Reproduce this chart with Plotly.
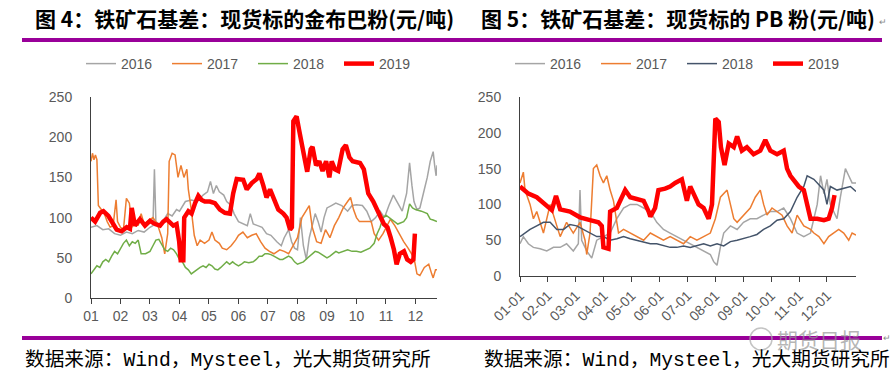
import plotly.graph_objects as go

W, H = 894, 381

# ---------------- Left chart (金布巴粉) : x = month index (0 = Jan 1) ----------------
L16_x = [0.0,0.2,0.4,0.6,0.8,1.0,1.2,1.4,1.6,1.8,2.0,2.1,2.15,2.2,2.35,2.5,2.6,2.75,2.9,3.0,3.1,3.2,3.4,3.6,3.8,3.95,4.05,4.15,4.25,4.35,4.5,4.6,4.75,4.85,5.0,5.15,5.3,5.4,5.5,5.65,5.8,5.95,6.1,6.3,6.45,6.55,6.7,6.8,6.9,7.0,7.1,7.2,7.3,7.4,7.5,7.6,7.7,7.8,7.9,8.0,8.15,8.3,8.5,8.7,8.85,9.0,9.2,9.35,9.5,9.65,9.8,9.95,10.1,10.25,10.4,10.55,10.7,10.8,10.88,10.95,11.05,11.15,11.3,11.4,11.5,11.6,11.65,11.7,11.73]
L16_y = [88,90,85,86,80,78,82,80,84,82,88,90,160,95,90,100,105,102,110,108,115,120,122,120,128,132,145,130,140,132,128,120,115,105,95,92,90,105,92,90,88,80,78,70,65,75,85,70,62,60,100,65,48,75,90,105,95,82,100,112,115,118,115,108,115,116,115,108,95,100,108,100,115,128,118,108,130,168,140,120,110,112,135,150,170,182,165,152,165]

L17_x = [0.0,0.05,0.1,0.15,0.2,0.25,0.35,0.45,0.55,0.65,0.75,0.85,0.9,1.0,1.1,1.2,1.3,1.4,1.5,1.6,1.7,1.8,1.9,2.0,2.1,2.25,2.4,2.5,2.6,2.65,2.75,2.85,2.95,3.05,3.15,3.25,3.3,3.4,3.5,3.6,3.7,3.85,4.0,4.1,4.2,4.35,4.45,4.6,4.75,4.9,5.0,5.15,5.3,5.45,5.6,5.75,5.9,6.05,6.2,6.4,6.55,6.7,6.85,7.0,7.15,7.3,7.4,7.5,7.65,7.8,7.95,8.1,8.25,8.4,8.55,8.7,8.8,8.9,9.0,9.1,9.3,9.5,9.6,9.75,9.9,10.05,10.15,10.3,10.45,10.6,10.75,10.85,10.95,11.05,11.15,11.3,11.45,11.55,11.6,11.68,11.73]
L17_y = [170,180,172,178,172,115,110,105,95,88,90,122,95,88,85,124,118,88,95,90,105,92,95,98,100,92,75,55,80,170,180,178,150,165,150,160,135,110,78,65,72,68,72,82,72,68,62,60,65,72,78,82,75,78,80,70,62,58,55,60,58,55,65,75,100,110,115,88,70,68,85,75,90,100,112,120,125,110,100,95,95,95,80,72,80,90,98,90,80,70,62,55,50,30,28,38,42,30,25,35,35]

L18_x = [0,0.1,0.2,0.3,0.4,0.5,0.6,0.7,0.8,0.9,1.0,1.1,1.2,1.3,1.4,1.5,1.6,1.7,1.85,2.0,2.1,2.2,2.3,2.4,2.5,2.6,2.7,2.8,2.9,3.0,3.1,3.2,3.3,3.4,3.5,3.6,3.7,3.8,3.9,4.0,4.1,4.2,4.3,4.4,4.5,4.6,4.7,4.8,4.9,5.0,5.1,5.2,5.35,5.5,5.6,5.7,5.8,5.9,6.0,6.1,6.2,6.3,6.4,6.5,6.6,6.7,6.8,6.9,7.0,7.1,7.2,7.35,7.5,7.6,7.7,7.8,7.9,8.0,8.1,8.2,8.3,8.4,8.55,8.7,8.85,9.0,9.15,9.3,9.45,9.6,9.7,9.8,9.9,10.0,10.2,10.4,10.6,10.7,10.8,10.9,11.0,11.2,11.4,11.5,11.6,11.73]
L18_y = [30,35,40,38,45,48,45,52,58,55,62,68,72,65,70,68,72,55,55,58,65,72,73,66,60,58,62,60,55,48,45,38,35,30,33,36,38,40,38,42,40,36,35,38,42,45,42,45,42,40,42,45,44,45,48,52,52,55,55,54,52,50,48,48,50,52,50,45,42,44,45,50,55,58,57,55,52,50,52,55,58,56,58,60,58,58,57,60,62,68,80,88,100,103,98,92,95,100,117,112,110,108,105,98,97,95]

L19_x = [0.00,0.14,0.31,0.42,0.59,0.76,0.87,1.04,1.21,1.32,1.38,1.49,1.66,1.83,2.00,2.17,2.34,2.45,2.56,2.79,2.90,2.99,3.04,3.13,3.16,3.30,3.41,3.53,3.64,3.75,3.86,4.03,4.20,4.37,4.54,4.71,4.82,4.94,5.16,5.28,5.45,5.62,5.71,5.84,5.95,6.07,6.24,6.35,6.52,6.63,6.75,6.81,6.86,6.97,7.05,7.14,7.25,7.33,7.45,7.51,7.63,7.74,7.85,7.97,8.08,8.16,8.27,8.38,8.53,8.64,8.76,8.87,9.12,9.25,9.40,9.57,9.68,9.80,9.93,10.05,10.16,10.27,10.36,10.47,10.61,10.72,10.84,10.93,10.98]
L19_y = [100,95,106,108,102,91,85,83,88,86,112,90,98,90,96,92,90,95,98,90,92,70,47,47,100,108,105,118,127,122,120,120,118,110,106,105,130,148,147,135,143,148,155,140,125,135,120,110,105,100,85,88,220,226,210,190,172,157,185,188,165,170,158,170,150,170,160,158,185,190,175,170,168,160,130,120,110,102,92,88,75,60,42,55,58,48,45,48,80]

# ---------------- Right chart (PB粉) ----------------
R16_x = [0,0.12,0.30,0.48,0.72,0.96,1.20,1.44,1.67,1.91,2.09,2.15,2.21,2.39,2.57,2.75,2.99,3.23,3.47,3.71,3.95,4.19,4.43,4.67,4.90,5.14,5.38,5.62,5.86,6.10,6.34,6.58,6.82,6.94,7.06,7.18,7.30,7.54,7.78,8.01,8.25,8.49,8.73,8.97,9.21,9.45,9.69,9.93,10.17,10.41,10.65,10.77,10.89,11.00,11.12,11.36,11.48,11.66,11.78,11.90,12.04]
R16_y = [45,55,45,40,38,35,40,40,45,35,45,120,50,35,25,50,55,60,80,95,100,100,95,90,75,65,60,55,50,45,40,35,30,20,15,40,60,70,65,75,80,80,85,90,90,95,80,60,55,60,100,140,115,135,100,80,110,150,140,130,130]

R17_x = [0,0.12,0.18,0.36,0.48,0.60,0.84,1.08,1.32,1.44,1.67,1.91,2.15,2.33,2.39,2.51,2.63,2.75,2.87,2.99,3.11,3.23,3.35,3.53,3.71,3.95,4.19,4.43,4.67,4.90,5.14,5.38,5.62,5.86,6.10,6.34,6.58,6.82,7.00,7.18,7.42,7.54,7.66,7.78,8.01,8.25,8.43,8.61,8.73,8.85,9.03,9.21,9.39,9.57,9.75,9.93,10.17,10.41,10.53,10.71,10.89,11.06,11.24,11.42,11.60,11.78,11.90,12.04]
R17_y = [130,145,120,100,80,90,60,100,70,55,75,60,75,50,30,60,150,155,140,130,140,120,105,60,65,60,55,50,60,55,50,55,50,45,55,50,55,60,80,110,120,100,80,75,85,95,110,120,100,85,95,90,85,70,60,85,70,65,60,55,45,55,60,65,60,50,60,57]

R18_x = [0,0.36,0.60,0.84,1.08,1.32,1.56,1.79,2.03,2.27,2.51,2.75,2.99,3.23,3.47,3.71,3.95,4.19,4.43,4.67,4.90,5.14,5.38,5.62,5.86,6.10,6.34,6.58,6.82,7.06,7.30,7.54,7.78,8.01,8.25,8.49,8.73,8.97,9.21,9.45,9.69,9.93,10.17,10.29,10.53,10.77,10.89,11.00,11.12,11.36,11.60,11.84,12.04]
R18_y = [55,65,70,75,75,65,65,72,70,65,60,55,55,50,52,55,52,50,48,45,45,42,40,40,42,40,42,45,42,45,42,48,50,52,55,58,65,70,78,80,90,110,125,140,135,125,120,100,125,120,122,125,118]

R19_x = [0,0.30,0.60,0.96,1.14,1.29,1.44,1.79,2.15,2.51,2.81,2.93,2.99,3.17,3.23,3.47,3.65,3.77,3.95,4.19,4.43,4.61,4.67,4.84,4.96,5.20,5.38,5.56,5.80,5.98,6.10,6.22,6.40,6.58,6.76,6.88,7.00,7.12,7.20,7.33,7.48,7.66,7.78,7.95,8.13,8.37,8.61,8.79,8.97,9.21,9.45,9.57,9.69,9.99,10.17,10.29,10.41,10.65,10.89,11.06,11.18,11.27]
R19_y = [125,115,110,98,92,112,93,90,82,78,75,70,40,38,90,95,110,120,110,108,105,90,83,95,120,122,125,130,135,105,125,115,100,95,80,100,220,215,180,155,185,180,195,175,180,170,175,190,175,170,175,150,140,125,120,100,80,80,78,80,95,113]

series_names = ["2016", "2017", "2018", "2019"]
left_month_labels = ["01","02","03","04","05","06","07","08","09","10","11","12"]
right_month_labels = ["01-01","02-01","03-01","04-01","05-01","06-01","07-01","08-01","09-01","10-01","11-01","12-01"]
y_ticks = [0, 50, 100, 150, 200, 250]

left_colors = ["#a5a5a5", "#ed7d31", "#70ad47", "#ff0000"]
right_colors = ["#a5a5a5", "#ed7d31", "#44546a", "#ff0000"]
widths = [1.5, 1.5, 1.5, 4.5]

fig = go.Figure()
left_data = [(L16_x, L16_y), (L17_x, L17_y), (L18_x, L18_y), (L19_x, L19_y)]
right_data = [(R16_x, R16_y), (R17_x, R17_y), (R18_x, R18_y), (R19_x, R19_y)]
for (xs, ys), name, c, w in zip(left_data, series_names, left_colors, widths):
    fig.add_trace(go.Scatter(x=xs, y=ys, name=name, mode="lines",
                             line=dict(color=c, width=w), xaxis="x", yaxis="y", legend="legend"))
for (xs, ys), name, c, w in zip(right_data, series_names, right_colors, widths):
    fig.add_trace(go.Scatter(x=xs, y=ys, name=name, mode="lines",
                             line=dict(color=c, width=w), xaxis="x2", yaxis="y2", legend="legend2"))

# convert picture pixel positions to paper fractions
def px(v):
    return v / W
def py(v):
    return 1 - v / H

tickfont = dict(family="Liberation Sans, Noto Sans CJK SC", size=14, color="#595959")
axis_common = dict(showgrid=False, zeroline=False, showline=True, linecolor="#404040", linewidth=1,
                   tickfont=tickfont, automargin=False)
legend_font = dict(family="Liberation Sans", size=14, color="#595959")

fig.update_layout(
    width=W, height=H, autosize=False,
    margin=dict(l=0, r=0, t=0, b=0),
    paper_bgcolor="white", plot_bgcolor="white",
    xaxis=dict(domain=[px(91), px(437)], range=[0, 11.73], anchor="y",
               tickmode="array", tickvals=list(range(12)), ticktext=left_month_labels,
               ticks="outside", ticklen=5, tickcolor="#404040", **axis_common),
    yaxis=dict(domain=[py(298), py(97)], range=[0, 250], anchor="x",
               tickmode="array", tickvals=y_ticks, ticks="", ticklabelstandoff=15, **axis_common),
    xaxis2=dict(domain=[px(520), px(856)], range=[0, 12.04], anchor="y2",
                tickmode="array", tickvals=list(range(12)), ticktext=right_month_labels,
                tickangle=-45, ticks="outside", ticklen=5, tickcolor="#404040", **axis_common),
    yaxis2=dict(domain=[py(276), py(97)], range=[0, 250], anchor="x2",
                tickmode="array", tickvals=y_ticks, ticks="", ticklabelstandoff=15, **axis_common),
    legend=dict(orientation="h", x=px(81), y=py(64), xanchor="left", yanchor="middle",
                entrywidth=41, font=legend_font, bgcolor="rgba(0,0,0,0)"),
    legend2=dict(orientation="h", x=px(510), y=py(64), xanchor="left", yanchor="middle",
                 entrywidth=41, font=legend_font, bgcolor="rgba(0,0,0,0)"),
    shapes=[
        dict(type="line", xref="paper", yref="paper", x0=px(22), x1=px(882), y0=py(40), y1=py(40),
             layer="above", line=dict(color="#990099", width=4)),
        dict(type="line", xref="paper", yref="paper", x0=px(22), x1=px(882), y0=py(338), y1=py(338),
             layer="above", line=dict(color="#990099", width=4)),
        # faint watermark icon
        dict(type="circle", xref="paper", yref="paper", x0=px(750), x1=px(772), y0=py(350), y1=py(328),
             layer="above", line=dict(color="rgba(170,170,170,0.7)", width=1.5)),
    ],
    annotations=[
        dict(text="<b>图 4：铁矿石基差：现货标的金布巴粉(元/吨)</b>", xref="paper", yref="paper",
             x=px(33), y=py(18.5), xanchor="left", yanchor="middle", showarrow=False,
             font=dict(family="Noto Sans CJK SC", size=21, color="#000000")),
        dict(text="<b>图 5：铁矿石基差：现货标的 PB 粉(元/吨)</b>", xref="paper", yref="paper",
             x=px(479), y=py(18.5), xanchor="left", yanchor="middle", showarrow=False,
             font=dict(family="Noto Sans CJK SC", size=21, color="#000000")),
        dict(text="↵", xref="paper", yref="paper", x=px(878), y=py(21), xanchor="left", yanchor="middle",
             borderpad=0, showarrow=False, font=dict(family="Noto Sans CJK SC", size=9, color="#888888")),
        dict(text="数据来源：Wind，Mysteel，光大期货研究所", xref="paper", yref="paper",
             x=px(23), y=py(360), xanchor="left", yanchor="middle", showarrow=False,
             font=dict(family="Liberation Mono, Noto Sans CJK SC", size=19.7, color="#000000")),
        dict(text="数据来源：Wind，Mysteel，光大期货研究所", xref="paper", yref="paper",
             x=px(482), y=py(360), xanchor="left", yanchor="middle", showarrow=False,
             font=dict(family="Liberation Mono, Noto Sans CJK SC", size=19.7, color="#000000")),
        dict(text="期货日报", xref="paper", yref="paper",
             x=px(775), y=py(339), xanchor="left", yanchor="middle", showarrow=False,
             font=dict(family="Noto Sans CJK SC", size=21, color="rgba(150,150,150,0.7)")),
        dict(text="↵", xref="paper", yref="paper", x=px(882), y=py(337), xanchor="left", yanchor="middle",
             borderpad=0, showarrow=False, font=dict(family="Noto Sans CJK SC", size=9, color="#888888")),
    ],
)

# remove the default page margin so the 894x381 figure fills the window exactly
fig.write_html("out.html", config={"displayModeBar": False},
               post_script="document.body.style.margin='0';")
